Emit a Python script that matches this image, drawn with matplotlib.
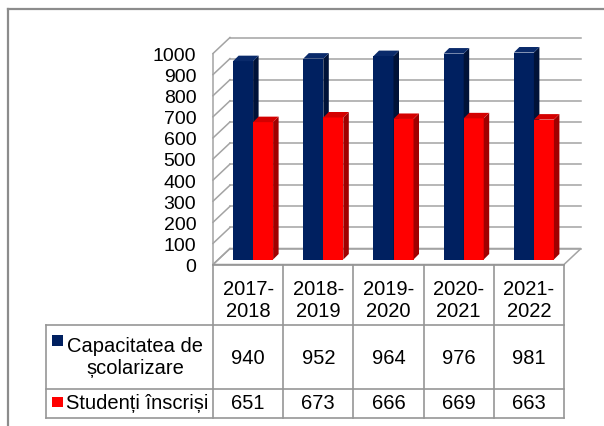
import matplotlib
matplotlib.use("Agg")
import matplotlib.pyplot as plt
from matplotlib.patches import Polygon
from matplotlib.lines import Line2D
from matplotlib.transforms import ScaledTranslation

# ---------------- data ----------------
categories = ["2017-\n2018", "2018-\n2019", "2019-\n2020", "2020-\n2021", "2021-\n2022"]
series_names = ["Capacitatea de\nșcolarizare", "Studenți înscriși"]
capacity = [940, 952, 964, 976, 981]
enrolled = [651, 673, 666, 669, 663]
yticks = [0, 100, 200, 300, 400, 500, 600, 700, 800, 900, 1000]

plt.rcParams['font.family'] = ['Liberation Sans', 'DejaVu Sans']

W, H = 604, 427
fig = plt.figure(figsize=(W / 100, H / 100), dpi=100)

def fx(px):
    return px / W

def fy(py):
    return 1 - py / H

# front plane of the 3D box
ax = fig.add_axes([fx(213), fy(265.5), fx(564) - fx(213), fy(54.5) - fy(265.5)])
ax.set_xlim(-0.5, len(categories) - 0.5)
ax.set_ylim(0, 1000)
ax.patch.set_alpha(0)
for s in ax.spines.values():
    s.set_visible(False)
ax.set_xticks([])
ax.set_yticks(yticks)
ax.tick_params(axis='y', length=0, pad=12.0, labelsize=14, labelcolor='black')

DX, DY = 17, 16        # depth of box (px)
B0, BD = 5, 5.5        # bar front offset, bar depth (px)

inv = fig.transFigure.inverted()

def P(x, y, dx=0.0, dy=0.0):
    d = ax.transData.transform((x, y))
    return inv.transform((d[0] + dx, d[1] + dy))

def add_poly(pts, fc, ec='none', lw=0, z=1):
    ax.add_patch(Polygon(pts, closed=True, transform=fig.transFigure, facecolor=fc,
                         edgecolor=ec, lw=lw, zorder=z, clip_on=False))

def add_seg(a, b, color, lw, z=1):
    ax.add_line(Line2D([a[0], b[0]], [a[1], b[1]], transform=fig.transFigure,
                       color=color, lw=lw, zorder=z, clip_on=False))

GRID = '#A3A3A3'
lw_grid = 1.1
n = len(categories)
x_left, x_right = -0.5, n - 0.5

# floor
add_poly([P(x_left, 0), P(x_right, 0), P(x_right, 0, DX, DY), P(x_left, 0, DX, DY)],
         'white', GRID, lw_grid, z=1)

# back wall and side wall gridlines
for v in yticks:
    add_seg(P(x_left, v, DX, DY), P(x_right, v, DX, DY), GRID, lw_grid, z=1.5)
    add_seg(P(x_left, v), P(x_left, v, DX, DY), GRID, lw_grid, z=1.5)
add_seg(P(x_left, 0), P(x_left, 1000), GRID, lw_grid, z=1.5)

# bars
bw = 0.285
series = [capacity, enrolled]
front_cols = ['#002060', '#FF0000']
side_cols = ['#001238', '#A00000']
top_cols = ['#0A2A6A', '#D40000']
offsets = [-bw, 0.0]
shift = ScaledTranslation(B0 / 100, B0 / 100, fig.dpi_scale_trans)
z = 3
for i in range(n):
    for s, vals in enumerate(series):
        v = vals[i]
        x0 = i + offsets[s]
        x1 = x0 + bw
        ax.bar([x0], [v], width=bw, align='edge', color=front_cols[s], linewidth=0,
               transform=ax.transData + shift, zorder=z, clip_on=False)
        add_poly([P(x1, 0, B0, B0), P(x1, 0, B0 + BD, B0 + BD),
                  P(x1, v, B0 + BD, B0 + BD), P(x1, v, B0, B0)], side_cols[s], z=z)
        add_poly([P(x0, v, B0, B0), P(x1, v, B0, B0),
                  P(x1, v, B0 + BD, B0 + BD), P(x0, v, B0 + BD, B0 + BD)], top_cols[s], z=z)
        z += 1

# ---------------- data table ----------------
TB = '#969696'
lw_t = 1.2
y_top = 265.5
y_r1 = 325.5
y_r2 = 389.5
y_bot = 419
x_leg = 46

def hline(x0f, x1f, py):
    fig.lines.append(Line2D([x0f, x1f], [fy(py), fy(py)], transform=fig.transFigure,
                            color=TB, lw=lw_t, zorder=10))

def vline(xf, py0, py1):
    fig.lines.append(Line2D([xf, xf], [fy(py0), fy(py1)], transform=fig.transFigure,
                            color=TB, lw=lw_t, zorder=10))

xl = P(x_left, 0)[0]
xr = P(x_right, 0)[0]
hline(xl, xr, y_top)
hline(fx(x_leg), xr, y_r1)
hline(fx(x_leg), xr, y_r2)
hline(fx(x_leg), xr, y_bot)
for k in range(n + 1):
    vline(P(x_left + k, 0)[0], y_top, y_bot)
vline(fx(x_leg), y_r1, y_bot)

TFS = 14.5
for i, cat in enumerate(categories):
    xc = P(i, 0)[0]
    fig.text(xc, fy(301), cat, ha='center', va='center', fontsize=TFS,
             linespacing=1.2, zorder=11)
    fig.text(xc, fy(358), str(capacity[i]), ha='center', va='center', fontsize=TFS, zorder=11)
    fig.text(xc, fy(404), str(enrolled[i]), ha='center', va='center', fontsize=TFS, zorder=11)

# legend keys
for s, (py0, py1) in enumerate([(336, 347), (398, 408)]):
    key = Polygon([(fx(52), fy(py0)), (fx(63), fy(py0)), (fx(63), fy(py1)), (fx(52), fy(py1))],
                  closed=True, transform=fig.transFigure, facecolor=front_cols[s],
                  edgecolor='none', zorder=11)
    fig.patches.append(key)
fig.text(fx(135), fy(357), series_names[0], ha='center', va='center', fontsize=TFS,
         linespacing=1.2, multialignment='center', zorder=11)
fig.text(fx(137), fy(404), series_names[1], ha='center', va='center', fontsize=TFS, zorder=11)

# outer frame (partially visible)
fig.lines.append(Line2D([fx(8), 1], [fy(10), fy(10)], transform=fig.transFigure,
                        color='#8C8C8C', lw=1.6, zorder=12))
fig.lines.append(Line2D([fx(8), fx(8)], [fy(10), 0], transform=fig.transFigure,
                        color='#8C8C8C', lw=1.6, zorder=12))

fig.savefig("out.png", dpi=100, facecolor='white')
